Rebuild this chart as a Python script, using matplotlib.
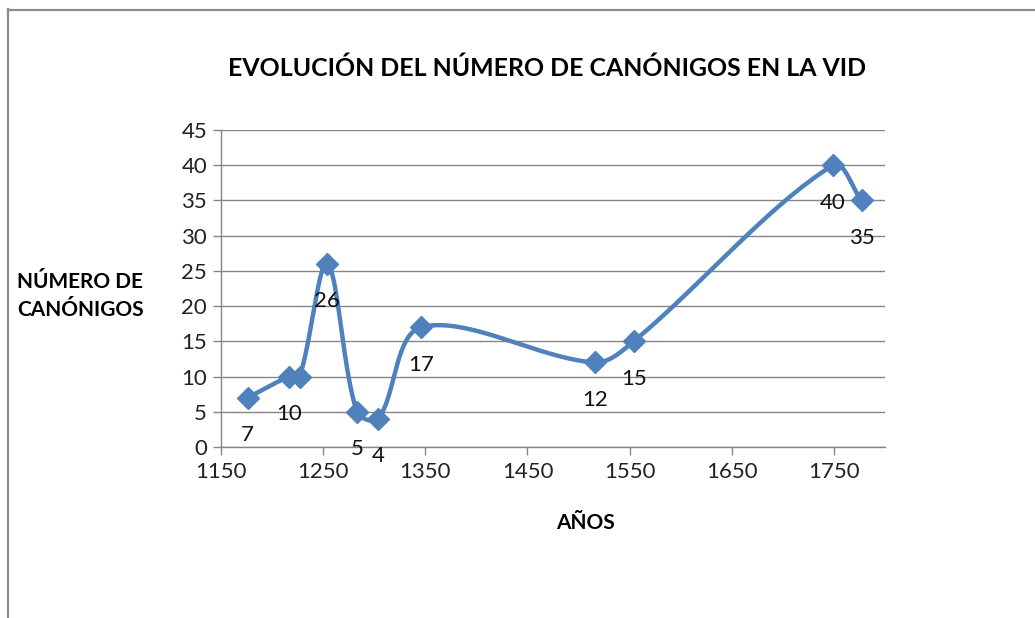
import numpy as np
import matplotlib
import matplotlib.pyplot as plt
from matplotlib.lines import Line2D

matplotlib.use('Agg')

years = [1176, 1217, 1227, 1254, 1283, 1304, 1346, 1516, 1554, 1749, 1777]
canons = [7, 10, 10, 26, 5, 4, 17, 12, 15, 40, 35]
# the two "10" labels sit on top of each other in the original, only one is readable
show_label = [True, True, False, True, True, True, True, True, True, True, True]

x_ticks = [1150, 1250, 1350, 1450, 1550, 1650, 1750]
y_ticks = [0, 5, 10, 15, 20, 25, 30, 35, 40, 45]

title = 'EVOLUCIÓN DEL NÚMERO DE CANÓNIGOS EN LA VID'
x_label = 'AÑOS'
y_label = 'NÚMERO DE\nCANÓNIGOS'

line_color = '#4F81BD'
grid_color = '#868686'


def smooth_path(ax, xs, ys, n=40):
    # smoothed line like the spreadsheet one: bezier with tangents weighted by segment length
    pts = ax.transData.transform(np.column_stack([xs, ys]))
    out = []
    m = len(pts)
    for i in range(m - 1):
        p0 = pts[i - 1] if i > 0 else pts[i]
        p1 = pts[i]
        p2 = pts[i + 1]
        p3 = pts[i + 2] if i + 2 < m else pts[i + 1]
        d01 = np.hypot(*(p1 - p0))
        d12 = np.hypot(*(p2 - p1))
        d23 = np.hypot(*(p3 - p2))
        c1 = p1 + (p2 - p0) * d12 / max(d01 + d12, 1e-9) / 3.0
        c2 = p2 - (p3 - p1) * d12 / max(d12 + d23, 1e-9) / 3.0
        t = np.linspace(0, 1, n)[:, None]
        seg = ((1 - t) ** 3) * p1 + 3 * ((1 - t) ** 2) * t * c1 + 3 * (1 - t) * t ** 2 * c2 + t ** 3 * p2
        out.append(seg if i == 0 else seg[1:])
    out = np.vstack(out)
    return ax.transData.inverted().transform(out)


if __name__ == '__main__':
    plt.rcParams['font.family'] = ['Lato', 'DejaVu Sans']

    W, H = 1035, 618
    fig = plt.figure(figsize=(W / 100, H / 100), dpi=100)
    fig.patch.set_facecolor('white')

    # chart frame (top and left visible, the rest cut off)
    fig.add_artist(Line2D([8 / W, 8 / W], [0, 1 - 9 / H], transform=fig.transFigure,
                          color='#8c8c8c', lw=1.6))
    fig.add_artist(Line2D([8 / W, 1], [1 - 10 / H, 1 - 10 / H], transform=fig.transFigure,
                          color='#8c8c8c', lw=1.6))

    left, right, top, bottom = 221, 885, 130, 447
    ax = fig.add_axes([left / W, 1 - bottom / H, (right - left) / W, (bottom - top) / H])
    ax.set_xlim(1150, 1800)
    ax.set_ylim(0, 45)
    ax.set_xticks(x_ticks)
    ax.set_yticks(y_ticks)

    for s in ['top', 'right']:
        ax.spines[s].set_visible(False)
    for s in ['left', 'bottom']:
        ax.spines[s].set_color(grid_color)
        ax.spines[s].set_linewidth(1.0)
    ax.yaxis.grid(True, color=grid_color, lw=1.0)
    ax.set_axisbelow(True)
    ax.tick_params(axis='both', colors=grid_color, labelcolor='#222222', labelsize=16,
                   length=6, width=1.0, direction='out')
    ax.tick_params(axis='x', pad=5)
    ax.tick_params(axis='y', pad=4)

    sm = smooth_path(ax, years, canons)
    ax.plot(sm[:, 0], sm[:, 1], color=line_color, lw=3.2, solid_capstyle='round', zorder=3)
    ax.plot(years, canons, linestyle='none', marker='D', ms=11, color=line_color, zorder=4)

    for xv, yv, show in zip(years, canons, show_label):
        if not show:
            continue
        ax.annotate(str(yv), (xv, yv), xytext=(0, -27), textcoords='offset points',
                    ha='center', va='center', fontsize=16, color='#111111',
                    annotation_clip=False, zorder=5)

    fig.text(547 / W, 1 - 68 / H, title, ha='center', va='center', fontsize=17.9,
             fontweight='bold', color='black')
    fig.text(585 / W, 1 - 523 / H, x_label, ha='center', va='center', fontsize=15,
             fontweight='bold', color='black')
    fig.text(17 / W, 1 - 296 / H, y_label, ha='left', va='center', fontsize=15,
             fontweight='bold', color='black', linespacing=1.45)

    fig.savefig('out.png', dpi=100)
